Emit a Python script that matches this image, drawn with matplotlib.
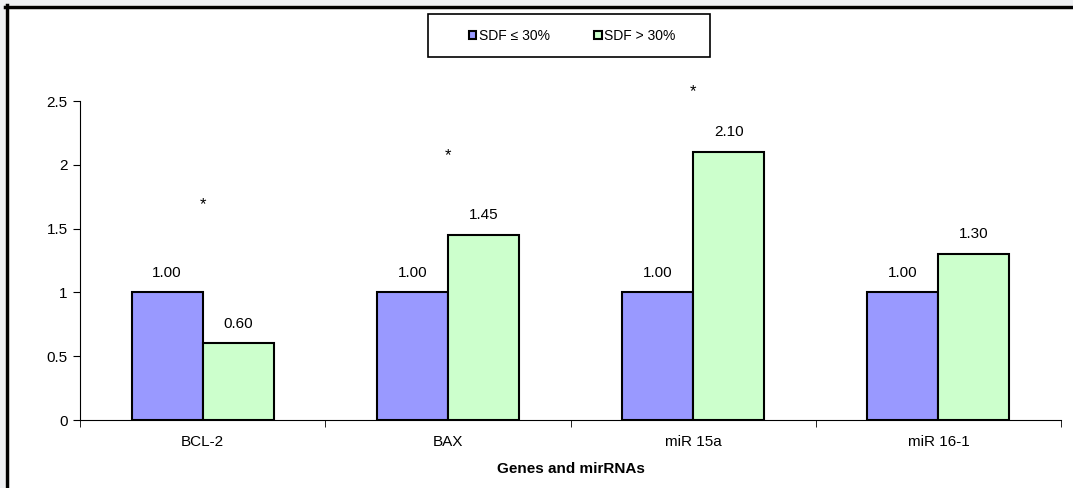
import numpy as np
import matplotlib.pyplot as plt
from matplotlib.patches import Rectangle
from matplotlib.lines import Line2D

plt.rcParams['font.family'] = ['Liberation Sans', 'DejaVu Sans']

categories = ["BCL-2", "BAX", "miR 15a", "miR 16-1"]
low_sdf = [1.00, 1.00, 1.00, 1.00]
high_sdf = [0.60, 1.45, 2.10, 1.30]
star_y = [1.69, 2.07, 2.57, None]
series_names = ["SDF \u2264 30%", "SDF > 30%"]

W, H = 1073, 488
fig = plt.figure(figsize=(W / 100, H / 100), dpi=100, facecolor="white")
# light gray margin at left and top, thick black frame of the panel
fig.patches.append(Rectangle((0, 0), 5 / W, 1, transform=fig.transFigure,
                             facecolor="#eef0f3", edgecolor="none", zorder=-5))
fig.patches.append(Rectangle((0, 1 - 5 / H), 1, 5 / H, transform=fig.transFigure,
                             facecolor="#eef0f3", edgecolor="none", zorder=-5))
fig.lines.append(Line2D([6.5 / W, 6.5 / W], [0, 1 - 5 / H], transform=fig.transFigure,
                        color="black", linewidth=2.5))
fig.lines.append(Line2D([5 / W, 1], [1 - 6.5 / H, 1 - 6.5 / H], transform=fig.transFigure,
                        color="black", linewidth=2.5))

ax = fig.add_axes([80 / W, (H - 420) / H, (1061 - 80) / W, (420 - 101) / H])
ax.set_facecolor("none")

x = np.arange(len(categories))
w = 0.29
b1 = ax.bar(x - w / 2, low_sdf, w, color="#9999ff", edgecolor="black", linewidth=1.5,
            label=series_names[0])
b2 = ax.bar(x + w / 2, high_sdf, w, color="#ccffcc", edgecolor="black", linewidth=1.5,
            label=series_names[1])

for bars in (b1, b2):
    for r in bars:
        ax.text(r.get_x() + r.get_width() / 2, r.get_height() + 0.1, f"{r.get_height():.2f}",
                ha="center", va="bottom", fontsize=11)

for i, s in enumerate(star_y):
    if s is not None:
        ax.text(x[i], s, "*", ha="center", va="center", fontsize=12)

ax.set_xlim(-0.5, len(categories) - 0.5)
ax.set_ylim(0, 2.5)
ax.set_yticks([0, 0.5, 1, 1.5, 2, 2.5])
ax.set_yticklabels(["0", "0.5", "1", "1.5", "2", "2.5"])
ax.set_xticks(x)
ax.set_xticklabels(categories)
ax.set_xticks(np.arange(len(categories) + 1) - 0.5, minor=True)
ax.tick_params(axis="x", which="major", length=0, labelsize=11, pad=11)
ax.tick_params(axis="x", which="minor", length=5, direction="out")
ax.tick_params(axis="y", length=5, direction="out", labelsize=11, pad=4)
ax.spines["top"].set_visible(False)
ax.spines["right"].set_visible(False)
ax.set_xlabel("Genes and mirRNAs", fontsize=11, fontweight="bold", labelpad=9)

# legend box drawn separately so it can be wide and flat
ax.add_patch(Rectangle((0.3547, 1.138), 0.2875, 0.135, transform=ax.transAxes,
                       facecolor="white", edgecolor="black", linewidth=1.2, clip_on=False))
ax.legend(loc="center", bbox_to_anchor=(0.5015, 1.205), ncol=2, fontsize=10, frameon=False,
          handlelength=0.55, handleheight=0.55, handletextpad=0.15, columnspacing=3.2,
          borderaxespad=0)

fig.savefig("out.png", dpi=100, facecolor=fig.get_facecolor())
